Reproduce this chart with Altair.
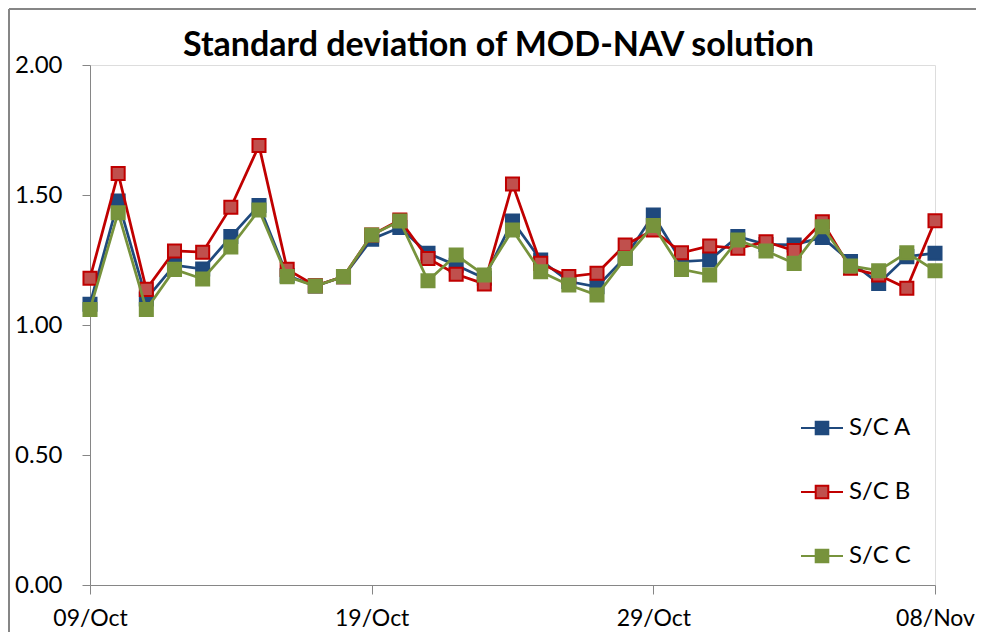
import altair as alt
import pandas as pd

dates = [
    "2013-10-09", "2013-10-10", "2013-10-11", "2013-10-12", "2013-10-13", "2013-10-14",
    "2013-10-15", "2013-10-16", "2013-10-17", "2013-10-18", "2013-10-19", "2013-10-20",
    "2013-10-21", "2013-10-22", "2013-10-23", "2013-10-24", "2013-10-25", "2013-10-26",
    "2013-10-27", "2013-10-28", "2013-10-29", "2013-10-30", "2013-10-31", "2013-11-01",
    "2013-11-02", "2013-11-03", "2013-11-04", "2013-11-05", "2013-11-06", "2013-11-07",
    "2013-11-08",
]
series_names = ["S/C A", "S/C B", "S/C C"]
sc_a = [1.08, 1.477, 1.10, 1.23, 1.215, 1.34, 1.46, 1.19, 1.15, 1.186, 1.33,
        1.375, 1.276, 1.23, 1.18, 1.40, 1.25, 1.167, 1.147, 1.26, 1.423,
        1.244, 1.25, 1.34, 1.31, 1.308, 1.337, 1.244, 1.16, 1.263, 1.276]
sc_b = [1.18, 1.583, 1.137, 1.285, 1.28, 1.453, 1.69, 1.214, 1.151, 1.186, 1.346,
        1.404, 1.256, 1.195, 1.158, 1.542, 1.237, 1.186, 1.199, 1.308, 1.365,
        1.278, 1.304, 1.295, 1.32, 1.286, 1.397, 1.218, 1.192, 1.141, 1.401]
sc_c = [1.06, 1.432, 1.06, 1.214, 1.177, 1.30, 1.442, 1.186, 1.15, 1.186, 1.346,
        1.40, 1.17, 1.269, 1.192, 1.365, 1.205, 1.154, 1.115, 1.256, 1.383,
        1.214, 1.192, 1.327, 1.285, 1.237, 1.378, 1.227, 1.209, 1.278, 1.209]
x_tick_dates = [(2013, 10, 9), (2013, 10, 19), (2013, 10, 29), (2013, 11, 8)]
y_ticks = [0.0, 0.5, 1.0, 1.5, 2.0]

line_colors = ["#1F497D", "#C00000", "#77933C"]
marker_fills = ["#1F497D", "#C0504D", "#77933C"]

rows = []
for name, vals in zip(series_names, [sc_a, sc_b, sc_c]):
    for d, v in zip(dates, vals):
        rows.append({"date": d, "series": name, "value": v})
df = pd.DataFrame(rows)

FONT = "Lato"
W, H = 845, 520

def dt(t):
    return alt.DateTime(year=t[0], month=t[1], date=t[2], utc=True)

legend = alt.Legend(
    title=None, orient="none", legendX=710, legendY=341,
    symbolType="M-1,0L-0.3,0M0.3,0L1,0M-0.3,-0.3L0.3,-0.3L0.3,0.3L-0.3,0.3Z",
    symbolSize=1764, symbolStrokeWidth=2, labelFontSize=24, labelFont=FONT,
    labelColor="black", rowPadding=30, labelOffset=5, padding=0,
)

x_enc = alt.X(
    "date:T",
    scale=alt.Scale(type="utc", domain=[dt(x_tick_dates[0]), dt(x_tick_dates[-1])]),
    axis=alt.Axis(title=None, values=[dt(t) for t in x_tick_dates], format="%d/%b",
                  tickSize=9, labelPadding=13, labelFontSize=23, labelFont=FONT,
                  labelColor="black", domainColor="#868686", tickColor="#868686",
                  grid=False, labelFlush=False),
)
y_enc = alt.Y(
    "value:Q",
    scale=alt.Scale(domain=[0, 2], nice=False, zero=True),
    axis=alt.Axis(title=None, values=y_ticks, format=".2f", tickSize=8, labelPadding=20,
                  labelFontSize=24, labelFont=FONT, labelColor="black",
                  domainColor="#868686", tickColor="#868686", grid=False),
)
stroke_enc = alt.Stroke("series:N", scale=alt.Scale(domain=series_names, range=line_colors),
                        legend=legend)
fill_enc = alt.Fill("series:N", scale=alt.Scale(domain=series_names, range=marker_fills),
                    legend=legend)

base = alt.Chart(df)
layers = []
for name in series_names:
    sub = base.transform_filter(alt.datum.series == name)
    layers.append(sub.mark_line(strokeWidth=2.75).encode(x=x_enc, y=y_enc, stroke=stroke_enc))
    layers.append(sub.mark_point(shape="square", filled=True, size=170, strokeWidth=2,
                                 opacity=1).encode(x=x_enc, y=y_enc, stroke=stroke_enc,
                                                   fill=fill_enc))

frame_df = pd.DataFrame({"k": [0]})
top_border = alt.Chart(frame_df).mark_rule(color="#868686", strokeWidth=2).encode(
    x=alt.value(-81), x2=alt.value(W + 41), y=alt.value(-56))
left_border = alt.Chart(frame_df).mark_rule(color="#868686", strokeWidth=2).encode(
    x=alt.value(-81), y=alt.value(-56), y2=alt.value(H + 47))

chart = alt.layer(top_border, left_border, *layers).properties(
    width=W, height=H,
    title=alt.Title("Standard deviation of MOD-NAV solution", fontSize=34, font=FONT,
                    fontWeight="bold", anchor="middle", dx=-14, dy=55, offset=0,
                    color="black"),
    autosize=alt.AutoSizeParams(type="none"),
    padding={"left": 82, "top": 57, "right": 41, "bottom": 47},
).configure_view(stroke=None).configure(background="white")

chart.save("out.html", embed_options={"renderer": "svg", "actions": False})
